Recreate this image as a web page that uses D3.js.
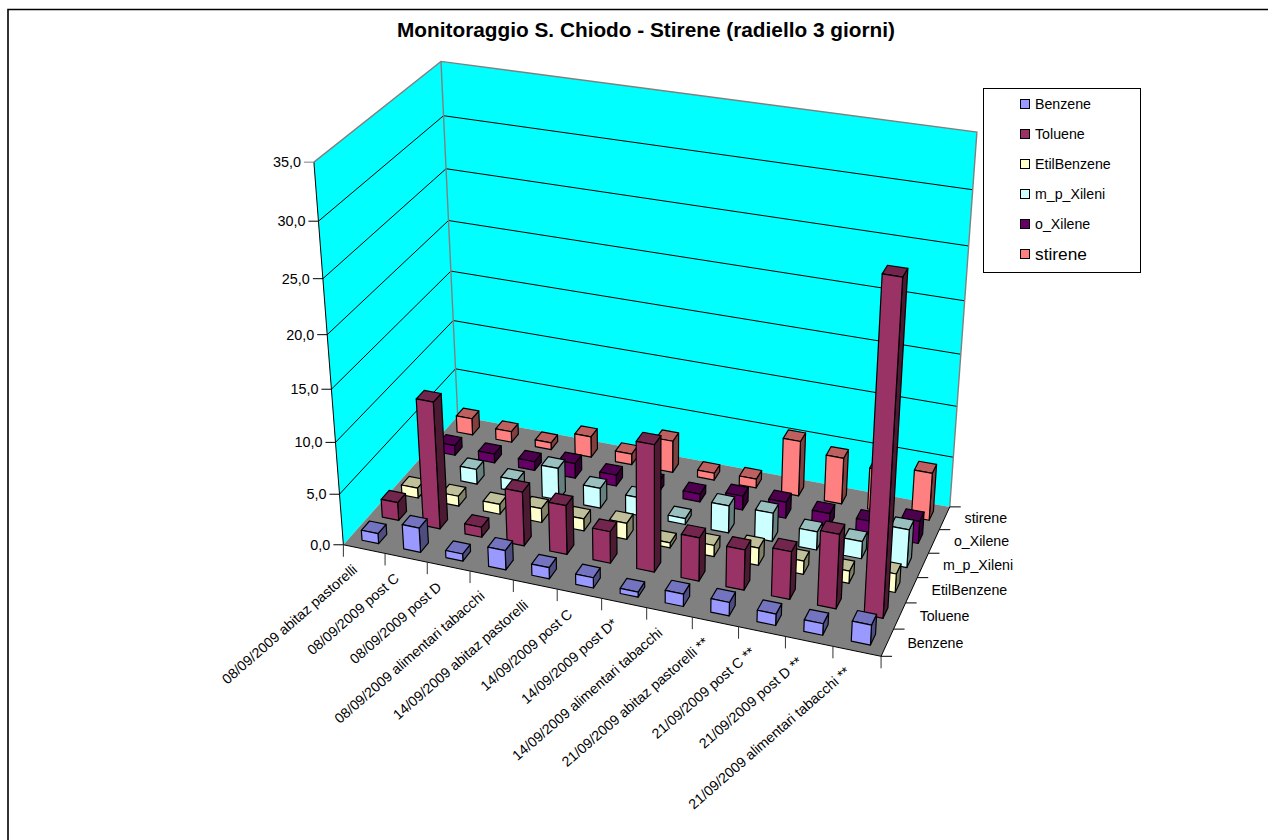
<!DOCTYPE html>
<html><head><meta charset="utf-8">
<script src="https://cdn.jsdelivr.net/npm/d3@7/dist/d3.min.js"></script>
<style>html,body{margin:0;padding:0;background:#fff;overflow:hidden}svg{display:block}text{font-family:"Liberation Sans",Arial,sans-serif;fill:#000}</style>
</head><body><svg id="c" width="1268" height="840"></svg>
<script>
const categories = ["08/09/2009 abitaz pastorelli","08/09/2009 post C","08/09/2009 post D","08/09/2009 alimentari tabacchi","14/09/2009 abitaz pastorelli","14/09/2009 post C","14/09/2009 post D*","14/09/2009 alimentari tabacchi","21/09/2009 abitaz pastorelli **","21/09/2009 post C **","21/09/2009 post D **","21/09/2009 alimentari tabacchi **"];
const seriesNames = ["Benzene","Toluene","EtilBenzene","m_p_Xileni","o_Xilene","stirene"];
const Benzene = [1.0,2.4,0.7,1.9,1.1,1.0,0.5,1.2,1.3,1.1,1.1,1.9];
const Toluene = [1.8,12.4,1.0,5.3,4.8,3.1,12.2,4.2,3.9,4.6,7.1,30.4];
const EtilBenzene = [1.0,1.0,1.0,1.4,1.2,1.6,0.5,1.1,1.7,1.3,1.2,1.8];
const m_p_Xileni = [1.0,1.5,1.2,3.2,2.0,1.8,0.6,2.7,2.8,1.8,1.7,3.7];
const o_Xilene = [1.0,0.9,0.9,1.5,1.1,1.1,0.8,1.4,1.6,1.3,1.3,2.2];
const stirene = [1.7,1.1,0.7,2.1,1.1,3.2,0.7,0.9,5.5,4.6,4.1,4.7];
const seriesValues = [Benzene,Toluene,EtilBenzene,m_p_Xileni,o_Xilene,stirene];
const seriesColors = ["#9999FF","#993366","#FFFFCC","#CCFFFF","#660066","#FF8080"];
const valueMax = 35;

// Camera: fitted from the seven visible corners of the plot box
const anchors = [
 [0,0,0,344,544],[1,0,0,881,657],[0,0,1,457,417],[1,0,1,950,506],
 [0,1,0,313.3,162.3],[0,1,1,441.7,61],[1,1,1,976.7,132.3]];
function solve(A,b){const n=b.length,M=A.map((r,i)=>[...r,b[i]]);
 for(let i=0;i<n;i++){let p=i;for(let k=i+1;k<n;k++)if(Math.abs(M[k][i])>Math.abs(M[p][i]))p=k;[M[i],M[p]]=[M[p],M[i]];
  for(let k=0;k<n;k++)if(k!==i){const f=M[k][i]/M[i][i];for(let j=i;j<=n;j++)M[k][j]-=f*M[i][j];}}
 return M.map((r,i)=>r[n]/r[i]);}
const rows=[],rhs=[];
anchors.forEach(([x,y,z,u,v])=>{
 rows.push([x,y,z,1,0,0,0,0,-u*x,-u*y,-u*z]);rhs.push(u);
 rows.push([0,0,0,0,x,y,z,1,-v*x,-v*y,-v*z]);rhs.push(v);});
const ATA=d3.range(11).map(i=>d3.range(11).map(j=>d3.sum(rows,r=>r[i]*r[j])));
const ATb=d3.range(11).map(i=>d3.sum(rows,(r,k)=>r[i]*rhs[k]));
const P=solve(ATA,ATb);
const project=(x,y,z)=>{const w=P[8]*x+P[9]*y+P[10]*z+1;return [(P[0]*x+P[1]*y+P[2]*z+P[3])/w,(P[4]*x+P[5]*y+P[6]*z+P[7])/w];};

const xBand=d3.scaleBand().domain(categories).range([0,1]).paddingInner(0.6).paddingOuter(0.3);
const zBand=d3.scaleBand().domain(seriesNames).range([0,1]).paddingInner(0.6).paddingOuter(0.3);
const yScale=d3.scaleLinear().domain([0,valueMax]).range([0,1]);
const fmt=v=>d3.format(".1f")(v).replace(".",",");
const poly=pts=>"M"+pts.map(p=>p.map(n=>n.toFixed(2)).join(",")).join("L")+"Z";
const line=(a,b)=>"M"+a[0].toFixed(2)+","+a[1].toFixed(2)+"L"+b[0].toFixed(2)+","+b[1].toFixed(2);

const svg=d3.select("#c");
svg.append("path").attr("d","M8,900V9.5H1300").attr("fill","none").attr("stroke","#000").attr("stroke-width",1.6);
svg.append("text").attr("x",646).attr("y",37).attr("text-anchor","middle").attr("font-weight","bold").attr("font-size",20.8).text("Monitoraggio S. Chiodo - Stirene (radiello 3 giorni)");

// walls and floor
svg.append("path").attr("d",poly([project(0,0,0),project(0,1,0),project(0,1,1),project(0,0,1)])).attr("fill","#00FFFF");
svg.append("path").attr("d",poly([project(0,0,1),project(0,1,1),project(1,1,1),project(1,0,1)])).attr("fill","#00FFFF");
const ticks=yScale.ticks(7);
svg.append("g").selectAll("path").data(ticks.filter(t=>t>0&&t<valueMax)).join("path")
 .attr("d",t=>{const y=yScale(t);return "M"+[project(0,y,0),project(0,y,1),project(1,y,1)].map(p=>p.join(",")).join("L");})
 .attr("fill","none").attr("stroke","#000").attr("stroke-width",1);
svg.append("path").attr("d","M"+[project(0,1,0),project(0,1,1),project(1,1,1),project(1,0,1)].map(p=>p.join(",")).join("L")).attr("fill","none").attr("stroke","#808080").attr("stroke-width",1.4);
svg.append("path").attr("d",line(project(0,0,1),project(0,1,1))).attr("stroke","#808080").attr("stroke-width",1.4);
svg.append("path").attr("d",poly([project(0,0,0),project(1,0,0),project(1,0,1),project(0,0,1)])).attr("fill","#808080");
svg.append("path").attr("d",line(project(0,0,0),project(0,1,0))).attr("stroke","#000");
svg.append("path").attr("d",line(project(0,0,0),project(1,0,0))).attr("stroke","#000");
svg.append("path").attr("d",line(project(1,0,0),project(1,0,1))).attr("stroke","#000");

// value axis
const vAxis=svg.append("g").selectAll("g").data(ticks).join("g").attr("transform",t=>{const p=project(0,yScale(t),0);return `translate(${p[0]},${p[1]})`;});
vAxis.append("line").attr("x1",-10).attr("x2",0).attr("stroke",t=>t===valueMax?"#808080":"#000");
vAxis.append("text").attr("x",-13).attr("y",5).attr("text-anchor","end").attr("font-size",14.4).text(fmt);

// category axis
const stepX=xBand.step();
svg.append("g").selectAll("line").data(d3.range(categories.length+1)).join("line")
 .each(function(i){const p=project(i*stepX,0,0);d3.select(this).attr("x1",p[0]).attr("y1",p[1]).attr("x2",p[0]).attr("y2",p[1]+12);})
 .attr("stroke","#333");
svg.append("g").selectAll("text").data(categories).join("text")
 .attr("transform",d=>{const p=project(xBand(d)+xBand.bandwidth()/2,0,0);return `translate(${p[0]-6},${p[1]+22}) rotate(-41)`;})
 .attr("text-anchor","end").attr("font-size",14.2).text(d=>d);

// series axis
const stepZ=zBand.step();
svg.append("g").selectAll("line").data(d3.range(seriesNames.length+1)).join("line")
 .each(function(i){const p=project(1,0,i*stepZ);d3.select(this).attr("x1",p[0]).attr("y1",p[1]).attr("x2",p[0]+11).attr("y2",p[1]);})
 .attr("stroke","#000");
svg.append("g").selectAll("text").data(seriesNames).join("text")
 .attr("x",d=>project(1,0,zBand(d)+zBand.bandwidth()/2)[0]+20)
 .attr("y",d=>project(1,0,zBand(d)+zBand.bandwidth()/2)[1]+5)
 .attr("font-size",14.2).text(d=>d);

// bars, painted back to front then left to right
const bars=[];
d3.range(seriesNames.length-1,-1,-1).forEach(s=>categories.forEach((c,i)=>bars.push({s,c,v:seriesValues[s][i]})));
const col=(c,k)=>{const o=d3.rgb(c);return d3.rgb(o.r*k,o.g*k,o.b*k).formatHex();};
const barG=svg.append("g").selectAll("g").data(bars).join("g");
const corners=d=>{const x0=xBand(d.c),x1=x0+xBand.bandwidth(),z0=zBand(seriesNames[d.s]),z1=z0+zBand.bandwidth(),y=yScale(d.v);return{x0,x1,z0,z1,y};};
barG.append("path").attr("d",d=>{const q=corners(d);return poly([project(q.x1,0,q.z0),project(q.x1,q.y,q.z0),project(q.x1,q.y,q.z1),project(q.x1,0,q.z1)]);}).attr("fill",d=>col(seriesColors[d.s],0.5));
barG.append("path").attr("d",d=>{const q=corners(d);return poly([project(q.x0,q.y,q.z0),project(q.x1,q.y,q.z0),project(q.x1,q.y,q.z1),project(q.x0,q.y,q.z1)]);}).attr("fill",d=>col(seriesColors[d.s],0.75));
barG.append("path").attr("d",d=>{const q=corners(d);return poly([project(q.x0,0,q.z0),project(q.x1,0,q.z0),project(q.x1,q.y,q.z0),project(q.x0,q.y,q.z0)]);}).attr("fill",d=>seriesColors[d.s]);
barG.selectAll("path").attr("stroke","#000").attr("stroke-width",1.2).attr("stroke-linejoin","round");

// legend
const legend=svg.append("g");
legend.append("rect").attr("x",983.5).attr("y",88.5).attr("width",157).attr("height",184).attr("fill","#fff").attr("stroke","#000");
const lg=legend.selectAll("g").data(seriesNames).join("g").attr("transform",(d,i)=>`translate(0,${104+i*30})`);
lg.append("rect").attr("x",1020.5).attr("y",-4.5).attr("width",9).attr("height",9).attr("fill",(d,i)=>seriesColors[i]).attr("stroke","#000");
lg.append("text").attr("x",1035).attr("y",(d,i)=>i===5?6:5).attr("font-size",(d,i)=>i===5?17.3:14.2).text(d=>d);
</script></body></html>
